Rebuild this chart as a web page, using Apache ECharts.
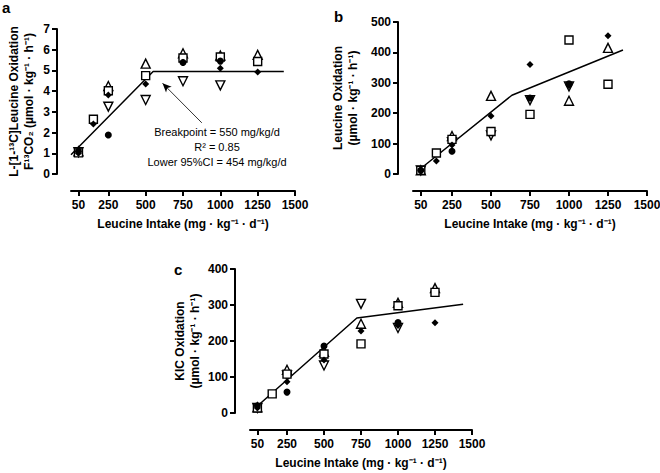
<!DOCTYPE html>
<html><head><meta charset="utf-8">
<script src="https://cdn.jsdelivr.net/npm/echarts@6/dist/echarts.min.js"></script>
<style>html,body{margin:0;padding:0;background:#fff}#c{width:660px;height:473px}#d{position:absolute;left:600px;top:440px;width:10px;height:10px;font:1px monospace;color:#fff;background:transparent;overflow:hidden;margin:0}</style>
</head><body><div id="c"></div><pre id="d"></pre>
<script>
// ---- data ----
const intake = [50, 150, 250, 500, 750, 1000, 1250];
const xTicks = [50, 250, 500, 750, 1000, 1250, 1500];

// Panel a: L-[1-13C]Leucine Oxidation (F13CO2)
const aCircle  = [1.10, null, 1.88, null, 5.38, 5.45, null];
const aDiamond = [1.00, 2.41, 3.81, 4.35, 5.40, 5.10, 4.92];
const aSquare  = [1.02, 2.64, 4.02, 4.75, 5.60, 5.65, 5.43];
const aTriUp   = [1.10, null, 4.25, 5.33, 5.83, 5.72, 5.75];
const aTriDown = [1.05, null, 3.25, 3.57, 4.48, 4.28, null];
const aFitX = [0, 550, 1425];
const aFitY = [0.93, 4.95, 4.95];
const aArrowFrom = [876, 2.47];
const aArrowTo = [613, 4.38];
const aNote = ['Breakpoint = 550 mg/kg/d', 'R\u00b2 = 0.85', 'Lower 95%CI = 454 mg/kg/d'];

// Panel b: Leucine Oxidation
const bCircle  = [12, null, 75, null, 250, 297, null];
const bDiamond = [12, 43, 95, 191, 360, 290, 455];
const bSquare  = [12, 69, 114, 140, 196, 441, 295];
const bTriUp   = [12, null, 125, 257, null, 241, 415];
const bTriDown = [12, null, 105, 127, 243, 288, null];
const bFitX = [50, 634, 1346];
const bFitY = [18, 259, 408];

// Panel c: KIC Oxidation
const cCircle  = [20, null, 58, 186, null, 251, null];
const cDiamond = [14, null, 87, 147, 228, 243, 251];
const cSquare  = [14, 53, 108, 164, 192, 298, 335];
const cTriUp   = [16, null, 120, 170, 248, 306, 347];
const cTriDown = [14, null, 104, 132, 303, 236, null];
const cFitX = [35, 722, 1440];
const cFitY = [14, 264, 302];

const xName = 'Leucine Intake (mg \u00b7 kg\u207b\u00b9 \u00b7 d\u207b\u00b9)';
const aYName = 'L-[1-\u00b9\u00b3C]Leucine Oxidation\nF\u00b9\u00b3CO\u2082 (\u00b5mol \u00b7 kg\u207b\u00b9 \u00b7 h\u207b\u00b9)';
const bYName = 'Leucine Oxidation\n(\u00b5mol \u00b7 kg\u207b\u00b9 \u00b7 h\u207b\u00b9)';
const cYName = 'KIC Oxidation\n(\u00b5mol \u00b7 kg\u207b\u00b9 \u00b7 h\u207b\u00b9)';

// ---- chart ----
const FONT = 'Liberation Sans, Arial, sans-serif';
const chart = echarts.init(document.getElementById('c'), null, {renderer: 'svg'});
function pairs(xs, ys) { return xs.map((x, i) => ys[i] == null ? null : [x, ys[i]]).filter(d => d); }
function xAxisCfg(g) {
  return {
    type: 'value', gridIndex: g, min: 0, max: 1500, offset: 17,
    axisLine: {show: true, onZero: false, lineStyle: {color: '#000', width: 2}},
    axisTick: {show: true, length: 5, lineStyle: {color: '#000', width: 2}, customValues: xTicks},
    axisLabel: {color: '#000', fontWeight: 'bold', fontSize: 12, fontFamily: FONT, margin: 8, customValues: xTicks, formatter: v => String(v)},
    splitLine: {show: false},
    name: xName, nameLocation: 'middle', nameGap: 27,
    nameTextStyle: {color: '#000', fontWeight: 'bold', fontSize: 12, fontFamily: FONT}
  };
}
function yAxisCfg(g, max, interval, offset, name, gap) {
  return {
    type: 'value', gridIndex: g, min: 0, max: max, interval: interval, offset: offset,
    axisLine: {show: true, onZero: false, lineStyle: {color: '#000', width: 2}},
    axisTick: {show: true, length: 5, lineStyle: {color: '#000', width: 2}},
    axisLabel: {color: '#000', fontWeight: 'bold', fontSize: 12, fontFamily: FONT, margin: 7},
    splitLine: {show: false},
    name: name, nameLocation: 'middle', nameGap: gap, nameRotate: 90,
    nameTextStyle: {color: '#000', fontWeight: 'bold', fontSize: 12, fontFamily: FONT, lineHeight: 15, align: 'center'}
  };
}
const open = {color: '#fff', borderColor: '#000', borderWidth: 1.4, opacity: 1};
const filled = {color: '#000', borderColor: '#000', borderWidth: 0, opacity: 1};
function markers(g, down, up, sq, circ, dia) {
  const base = {type: 'scatter', xAxisIndex: g, yAxisIndex: g, z: 3};
  return [
    Object.assign({}, base, {data: pairs(intake, down), symbol: 'triangle', symbolRotate: 180, symbolSize: 9, itemStyle: open}),
    Object.assign({}, base, {data: pairs(intake, up), symbol: 'triangle', symbolSize: 9, itemStyle: open}),
    Object.assign({}, base, {data: pairs(intake, sq), symbol: 'rect', symbolSize: 8, itemStyle: open}),
    Object.assign({}, base, {data: pairs(intake, circ), symbol: 'circle', symbolSize: 7, itemStyle: filled}),
    Object.assign({}, base, {data: pairs(intake, dia), symbol: 'diamond', symbolSize: 7, itemStyle: filled})
  ];
}
function fit(g, xs, ys, extra) {
  return Object.assign({type: 'line', xAxisIndex: g, yAxisIndex: g, data: pairs(xs, ys), symbol: 'none', z: 2,
    lineStyle: {color: '#000', width: 1.5}}, extra || {});
}
chart.setOption({
  animation: false, backgroundColor: '#fff',
  grid: [
    {left: 71, right: 365, top: 29, bottom: 299, outerBoundsMode: 'none', containLabel: false},
    {left: 413, right: 13, top: 22, bottom: 299, outerBoundsMode: 'none', containLabel: false},
    {left: 250, right: 188, top: 269, bottom: 60, outerBoundsMode: 'none', containLabel: false}
  ],
  xAxis: [xAxisCfg(0), xAxisCfg(1), xAxisCfg(2)],
  yAxis: [yAxisCfg(0, 7, 1, 14, aYName, 21), yAxisCfg(1, 500, 100, 15, bYName, 38), yAxisCfg(2, 400, 100, 15, cYName, 33)],
  series: [
    fit(0, aFitX, aFitY, {markLine: {silent: true, symbol: ['none', 'arrow'], symbolSize: [6, 9], label: {show: false},
      lineStyle: {color: '#000', width: 0.8, type: 'solid'}, data: [[{coord: aArrowFrom}, {coord: aArrowTo}]]}}),
    ...markers(0, aTriDown, aTriUp, aSquare, aCircle, aDiamond),
    fit(1, bFitX, bFitY),
    ...markers(1, bTriDown, bTriUp, bSquare, bCircle, bDiamond),
    fit(2, cFitX, cFitY),
    ...markers(2, cTriDown, cTriUp, cSquare, cCircle, cDiamond)
  ],
  graphic: [
    {type: 'text', x: 217, y: 147, style: {text: aNote.join('\n'), align: 'center', verticalAlign: 'middle', lineHeight: 15, font: '11px ' + FONT, fill: '#000'}},
    {type: 'text', x: 2, y: 0, style: {text: 'a', font: 'bold 15px ' + FONT, fill: '#000'}},
    {type: 'text', x: 334, y: 9, style: {text: 'b', font: 'bold 15px ' + FONT, fill: '#000'}},
    {type: 'text', x: 174, y: 262, style: {text: 'c', font: 'bold 15px ' + FONT, fill: '#000'}}
  ]
});
setTimeout(() => {
  const zr = chart.getZr();
  const n = zr.storage.getDisplayList(true).length;
  zr.refreshImmediately();
  document.getElementById('d').textContent = String(n);
}, 300);
</script></body></html>
